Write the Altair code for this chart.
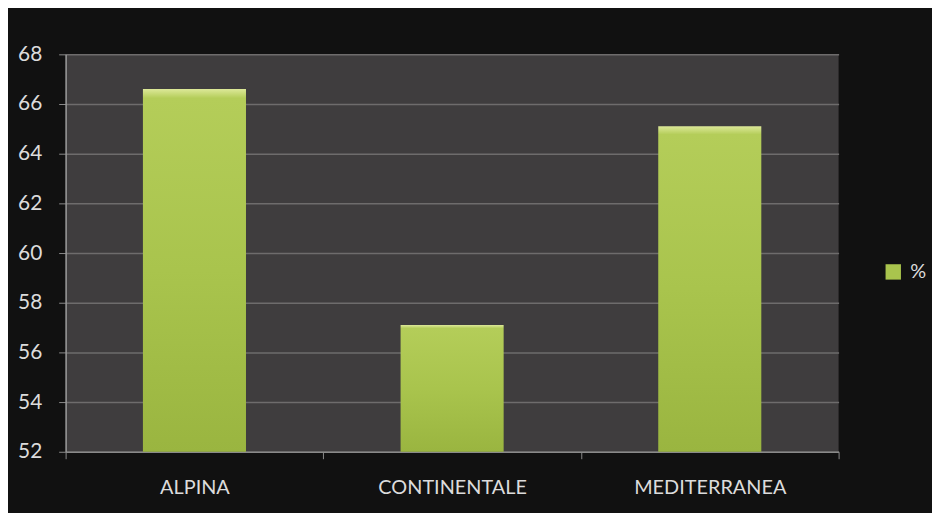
import altair as alt
import pandas as pd

categories = ["ALPINA", "CONTINENTALE", "MEDITERRANEA"]
values = [66.6, 57.1, 65.1]
series_name = "%"
y_ticks = [52, 54, 56, 58, 60, 62, 64, 66, 68]
y_min, y_max = 52, 68

df = pd.DataFrame({"zona": categories, "valore": values, "serie": [series_name] * len(categories)})

gradient = alt.Gradient(
    gradient="linear",
    x1=0, x2=0, y1=0, y2=1,
    stops=[
        alt.GradientStop(color="#dce898", offset=0),
        alt.GradientStop(color="#b4cd59", offset=0.025),
        alt.GradientStop(color="#a9c44d", offset=0.5),
        alt.GradientStop(color="#9ab540", offset=1),
    ],
)

x_enc = alt.X(
    "zona:N",
    sort=categories,
    title=None,
    scale=alt.Scale(paddingInner=0, paddingOuter=0),
    axis=alt.Axis(
        labelAngle=0,
        labelColor="#dcdcdc",
        labelFont="Lato",
        labelFontSize=20,
        labelPadding=19,
        tickBand="extent",
        tickColor="#8a8a8a",
        tickSize=7,
        domainColor="#8a8a8a",
        domainWidth=1.5,
        grid=False,
    ),
)
y_enc = alt.Y(
    "valore:Q",
    title=None,
    scale=alt.Scale(domain=[y_min, y_max], zero=False, nice=False),
    axis=alt.Axis(
        values=y_ticks,
        labelColor="#dcdcdc",
        labelFont="Lato",
        labelFontSize=21,
        labelPadding=17,
        tickColor="#8a8a8a",
        tickSize=7,
        domainColor="#9a9a9a",
        domainWidth=1.5,
        gridColor="#6e6c6c",
        gridWidth=1.5,
    ),
)

bar_width = alt.RelativeBandSize(0.4)

bars = alt.Chart(df).mark_bar(color=gradient, width=bar_width).encode(
    x=x_enc, y=y_enc, y2=alt.datum(y_min)
)

legend_layer = alt.Chart(df).mark_bar(opacity=0, width=bar_width).encode(
    x=x_enc,
    y=y_enc,
    y2=alt.datum(y_min),
    color=alt.Color(
        "serie:N",
        scale=alt.Scale(range=["#a9c44d"]),
        legend=alt.Legend(
            title=None,
            orient="none",
            legendX=823,
            legendY=209,
            symbolType="square",
            symbolSize=240,
            symbolOpacity=1,
            symbolStrokeWidth=0,
            labelColor="#dcdcdc",
            labelFont="Lato",
            labelFontSize=20,
            labelOffset=7,
        ),
    ),
)

chart = (
    alt.layer(bars, legend_layer)
    .properties(
        width=778,
        height=400,
        background="#111111",
        padding={"left": 58, "top": 45, "right": 94, "bottom": 60},
        autosize=alt.AutoSizeParams(type="none"),
    )
    .configure_view(fill="#3f3d3e", stroke=None)
)

chart.save("out.html", embed_options={"renderer": "svg", "actions": False})
